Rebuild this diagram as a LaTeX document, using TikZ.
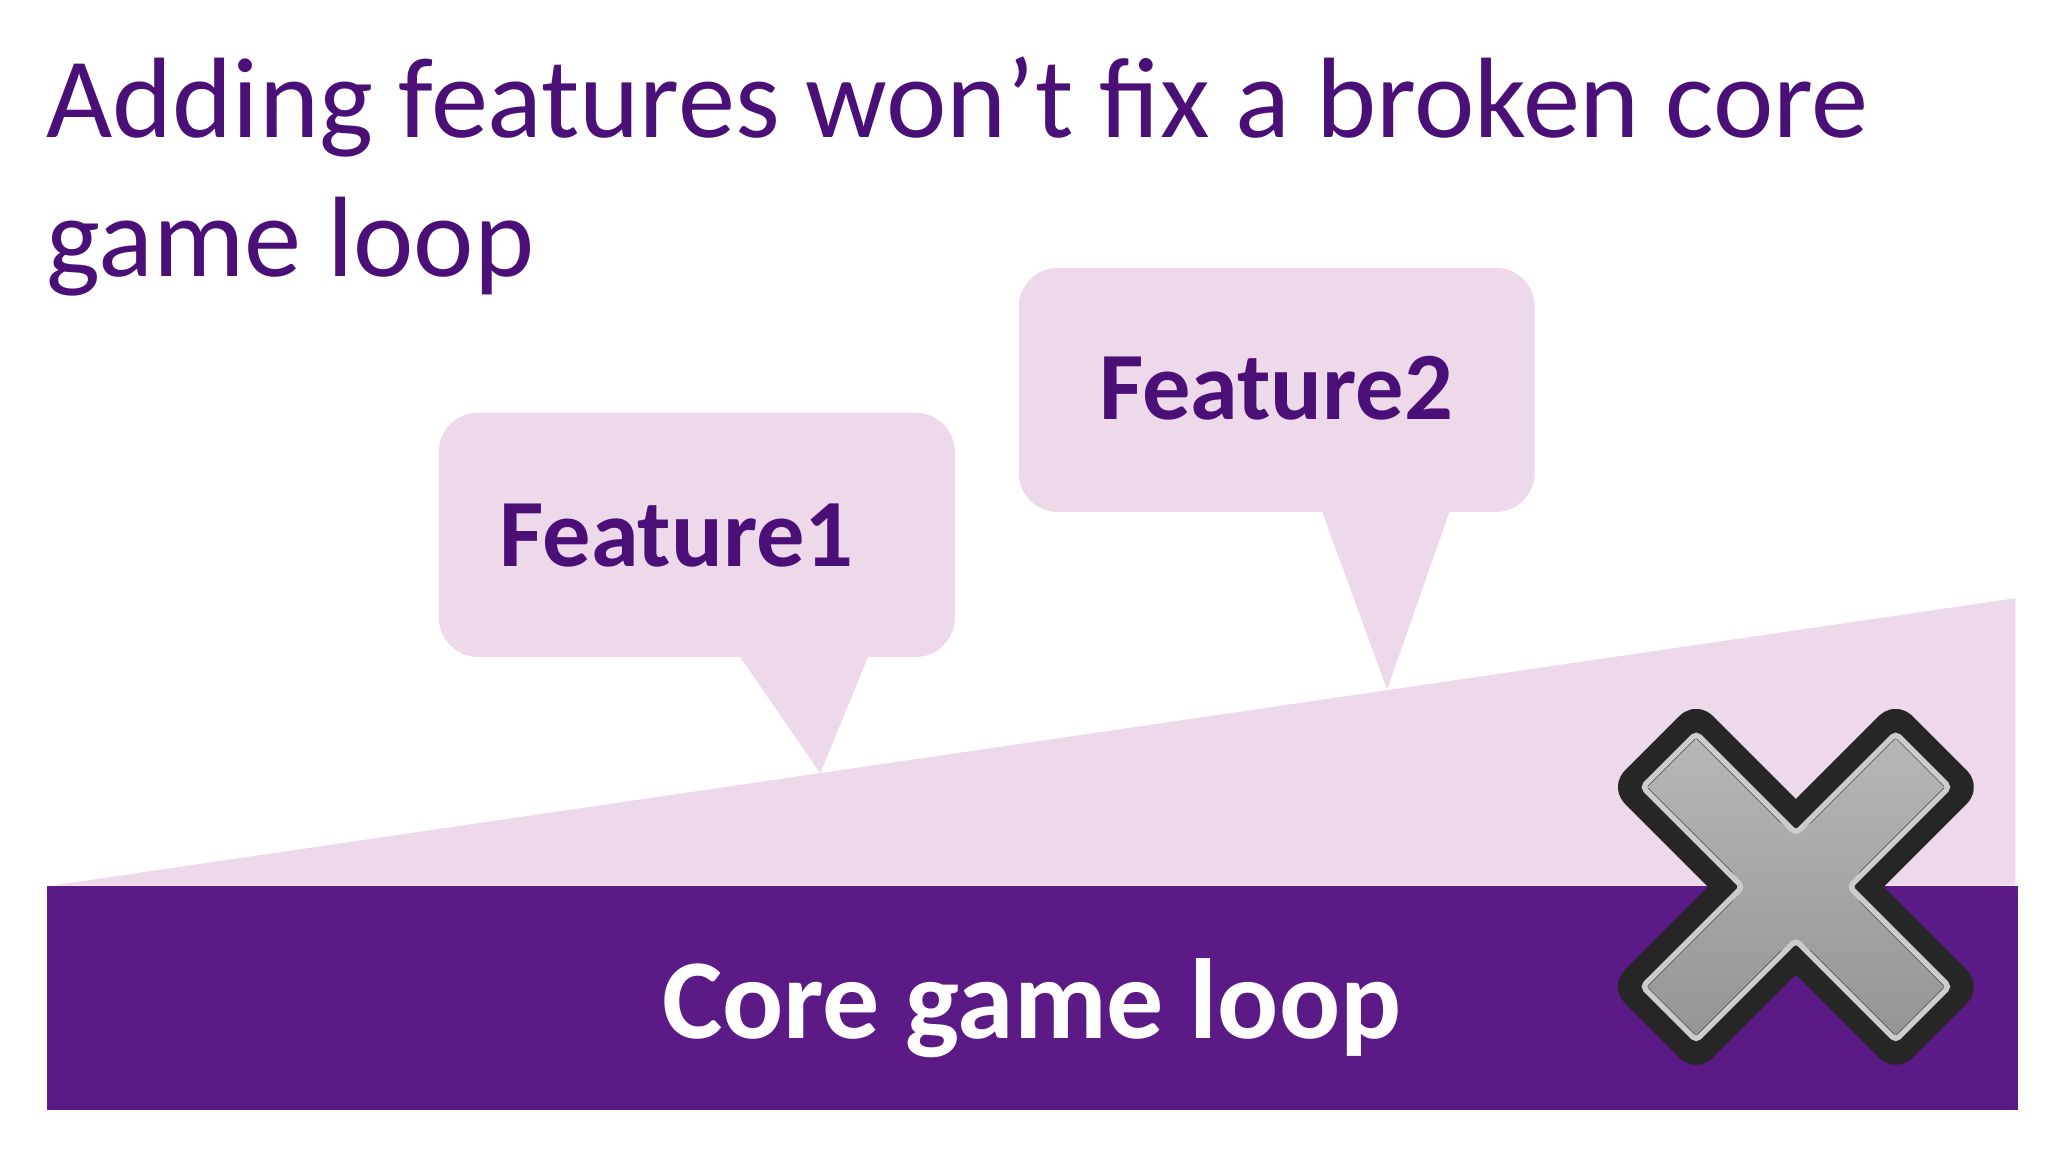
\documentclass[tikz,border=0pt]{standalone}
\usepackage{fontspec}
\setmainfont{Carlito}
\definecolor{deep}{HTML}{5B1A85}
\definecolor{titlec}{HTML}{4B0F78}
\definecolor{pinkish}{HTML}{EDD9EA}
\begin{document}
\begin{tikzpicture}[x=0.01cm,y=-0.01cm,
  feat/.style={text=titlec,font=\fontsize{21}{26}\selectfont\bfseries}]
\useasboundingbox (0,0) rectangle (1568,882);
\fill[white] (0,0) rectangle (1568,882);
\node[anchor=base west,text=titlec,font=\fontsize{24.9}{30}\selectfont,inner sep=0] (t1) at (35,105) {Adding features won’t fix a broken core};
\node[anchor=base west,text=titlec,font=\fontsize{24.9}{30}\selectfont,inner sep=0] (t2) at (35,212) {game loop};
\fill[pinkish] (40,678) -- (1543,458) -- (1543,678) -- cycle;
\fill[deep] (36,678) rectangle (1545,850);
\fill[pinkish,rounded corners=0.3cm] (336,316) rectangle (731,503);
\fill[pinkish] (566,502) -- (628,592) -- (665,502) -- cycle;
\fill[pinkish,rounded corners=0.3cm] (780,205) rectangle (1175,392);
\fill[pinkish] (1012,391) -- (1062,528) -- (1110,391) -- cycle;
\node[feat] (f1) at (518,410) {Feature1};
\node[feat] (f2) at (977,297) {Feature2};
\node[text=white,font=\fontsize{24.8}{30}\selectfont\bfseries] (core) at (790,772) {Core game loop};
\begin{scope}[shift={(1375,679)},rotate=45]
\draw[line width=6pt,line join=round,rounded corners=2pt,draw=black!85,top color=gray!55,bottom color=gray!85]
 (37,145) -- (37,37) -- (145,37) -- (145,-37) -- (37,-37) -- (37,-145) -- (-37,-145) -- (-37,-37) -- (-145,-37) -- (-145,37) -- (-37,37) -- (-37,145) -- cycle;
\draw[line width=1.2pt,draw=gray!40,rounded corners=1pt]
 (29,137) -- (29,29) -- (137,29) -- (137,-29) -- (29,-29) -- (29,-137) -- (-29,-137) -- (-29,-29) -- (-137,-29) -- (-137,29) -- (-29,29) -- (-29,137) -- cycle;
\end{scope}
\end{tikzpicture}
\end{document}
